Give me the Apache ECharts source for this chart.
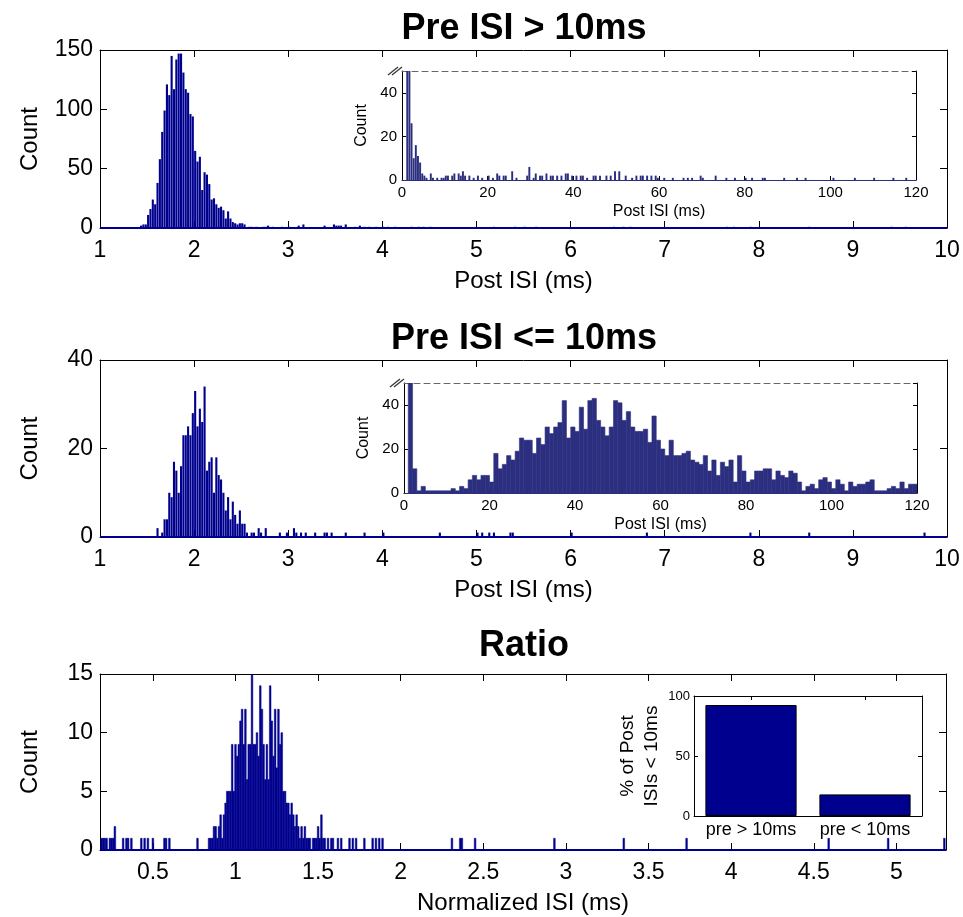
<!DOCTYPE html>
<html>
<head>
<meta charset="utf-8">
<script src="https://cdn.jsdelivr.net/npm/echarts@6/dist/echarts.min.js"></script>
<style>html,body{margin:0;padding:0;background:#fff}#c{width:963px;height:917px}</style>
</head>
<body>
<div id="c"></div>
<script>
// ---------------- DATA ----------------
const titles = ['Pre ISI > 10ms', 'Pre ISI <= 10ms', 'Ratio'];

// Panel 1 main histogram (Post ISI, 0.025 ms bins)
const topBin = 0.025;
const topStart = 1.4375;
const topCounts = [2,3,3,11,16,24,20,38,58,81,99,121,112,145,117,142,147,147,131,117,114,96,94,65,56,60,32,47,45,37,24,25,20,17,18,15,8,14,8,5,4,3,4,4,3];
const topTail = [[2.5875,1],[2.6125,1],[2.6625,1],[2.7375,1],[2.7625,1],[2.7875,2],[2.8375,1],[2.9375,1],[3.0125,1],[3.1125,2],[3.1625,3],[3.3875,2],[3.4875,3],[3.5125,2],[3.5375,2],[3.5625,2],[3.6125,3],[3.7125,1],[3.7625,2],[3.8125,1],[3.8625,1],[3.9375,1],[4.0125,1],[4.0625,1],[4.1375,1],[4.3125,1],[4.3875,1],[4.4375,1],[4.5125,1],[5.1875,1],[5.4125,1],[5.5125,1],[5.6375,1],[6.4625,1],[6.5625,1],[6.6375,1],[7.6625,1],[7.7375,1],[7.9125,1],[8.5375,1],[9.4125,1],[9.5625,1]];

// Panel 1 inset (0.5 ms bins) [bin centre, count]
const topInsetBin = 0.5;
const topInset = [[1.25,60],[1.75,60],[2.25,26],[2.75,10],[3.25,16],[3.75,11],[4.25,8],[4.75,3],[5.25,2],[5.75,1],[6.75,3],[7.25,1],[8.25,1],[9.25,1],[9.75,1],[10.25,2],[10.75,2],[11.75,2],[12.25,3],[13.25,3],[13.75,2],[14.25,4],[14.75,2],[15.75,2],[16.75,1],[17.75,2],[18.75,1],[20.25,2],[21.25,1],[22.25,3],[22.75,2],[23.75,2],[24.25,2],[25.75,4],[26.75,1],[29.25,2],[29.75,6],[30.75,1],[31.25,3],[32.25,2],[32.75,2],[33.75,3],[34.75,2],[35.25,2],[36.25,2],[37.25,2],[38.25,3],[38.75,3],[39.75,2],[40.75,2],[41.75,2],[42.25,2],[43.25,1],[44.75,2],[45.25,2],[46.25,2],[47.75,2],[48.75,2],[49.75,4],[50.75,4],[52.25,2],[53.75,1],[54.75,2],[55.75,2],[56.25,2],[57.25,2],[58.25,2],[59.25,2],[59.75,1],[61.25,1],[63.25,1],[65.75,1],[66.75,1],[67.75,1],[69.75,2],[70.25,1],[73.25,2],[75.75,1],[77.75,1],[80.25,1],[81.75,1],[84.25,1],[84.75,1],[89.25,1],[92.25,1],[94.25,1],[100.75,1],[105.75,1],[110.25,1],[114.75,1],[117.75,1]];

// Panel 2 main histogram (0.025 ms bins)
const midBin = 0.025;
const midStart = 1.6125;
const midCounts = [2,0,1,4,4,10,9,17,15,10,16,23,23,25,23,28,33,25,29,26,34,15,17,18,10,18,14,13,10,6,9,4,8,5,3,6,3,3,1,0,1,1,0,2,1,0,2];
const midTail = [[2.9125,1],[2.9875,1],[3.0625,2],[3.0875,1],[3.1375,1],[3.1875,1],[3.2875,1],[3.3875,1],[3.4125,1],[3.4625,1],[3.6125,1],[3.8125,1],[4.0125,1],[4.6125,1],[5.0125,1],[5.0625,1],[5.1375,1],[5.1875,1],[5.3625,1],[5.3875,1],[6.0125,1],[6.8125,1],[7.9125,1],[8.5375,1],[9.7625,1]];

// Panel 2 inset (1 ms bins starting at 0)
const midInsetBin = 1;
const midInset = [0,60,11,1,3,1,1,1,1,1, 1,2,1,3,2,6,8,6,8,8, 5,18,11,13,17,15,19,25,24,24, 18,25,22,30,27,30,32,42,25,30, 28,39,29,42,43,33,30,26,30,42, 41,33,37,30,28,28,29,23,35,24, 20,17,24,17,17,18,19,15,14,13, 17,10,15,8,14,12,15,5,17,10, 5,6,10,10,11,11,6,10,8,7, 10,9,5,1,3,4,2,6,7,5, 2,6,4,1,5,3,4,4,5,6, 1,1,1,2,3,2,5,2,4,4];

// Panel 3 main histogram (normalized ISI, 0.01 bins)
const ratioBin = 0.01;
const ratioStart = 0.85;
const ratioCounts = [1,1,2,2,1,2,3,1,3,4, 5,5,5,9,5,9,8,9,11,12, 9,12,6,9,9,15,9,9,10,8, 14,12,9,6,9,6,14,11,8,12, 7,12,9,10,5,5,4,4,3,4, 3,2,3,2,1,2,1,2,1,1, 1,0,1,1,1,2,1,3,1,1, 0,1,0,1,1,0];
const ratioTail = [[0.19,1],[0.20,1],[0.21,1],[0.22,1],[0.24,1],[0.25,1],[0.26,1],[0.27,2],[0.32,1],[0.34,1],[0.35,1],[0.37,1],[0.43,1],[0.45,1],[0.47,1],[0.50,1],[0.57,1],[0.58,1],[0.60,1],[0.77,1],[0.84,1],[1.62,1],[1.64,1],[1.69,1],[1.71,1],[1.73,1],[1.78,1],[1.83,1],[1.85,1],[1.87,1],[1.89,1],[2.31,1],[2.36,1],[2.37,1],[2.45,1],[2.93,1],[3.35,1],[3.73,1],[4.59,1],[4.95,1],[5.29,1]];
const ratioTicks = [0.5,1,1.5,2,2.5,3,3.5,4,4.5,5];

// Panel 3 inset bars
const barCats = ['pre > 10ms', 'pre < 10ms'];
const barVals = [92.5, 18];

// ---------------- BUILD ----------------
function seq(start, bw, counts){ return counts.map((c,i)=>[start + i*bw, c]); }
const C_MAIN = '#00008f';
const C_INSET = '#2c2f7f';
const FONT = 'Liberation Sans, Arial, Helvetica, sans-serif';

function hist(xi, yi, data, bw, color, shrink, baseW, strokeW){
  return {
    type:'custom', xAxisIndex:xi, yAxisIndex:yi, data:data, clip:true, silent:true, animation:false, z:3,
    renderItem:function(params, api){
      const x = api.value(0), y = api.value(1);
      if(!y) return null;
      const a = api.coord([x - bw/2, y]);
      const b = api.coord([x + bw/2, 0]);
      const w = Math.max(b[0]-a[0]-shrink, 0.9);
      const style = {fill:color};
      if(strokeW){ style.stroke = color; style.lineWidth = strokeW; }
      return {type:'rect', shape:{x:a[0], y:a[1], width:w, height:b[1]-a[1]}, style:style};
    },
    markLine:{silent:true, symbol:'none', animation:false, label:{show:false},
      lineStyle:{color:color, width:baseW, type:'solid'}, data:[{yAxis:0}]}
  };
}

function axLine(color, type){ return {show:true, onZero:false, lineStyle:{color:color||'#000', width:1, type:type||'solid'}}; }
function mainX(grid, min, max, interval, name, custom){
  const lab = {fontSize:23, color:'#000', fontFamily:FONT, margin:11};
  const tick = {show:true, inside:true, length:7, lineStyle:{color:'#000'}};
  if(custom){ lab.customValues = custom; tick.customValues = custom; }
  const bottom = {type:'value', gridIndex:grid, position:'bottom', min:min, max:max, interval:interval,
    axisLine:axLine(), axisTick:tick, axisLabel:lab, splitLine:{show:false},
    name:name, nameLocation:'middle', nameGap:41, nameTextStyle:{fontSize:24, color:'#000', fontFamily:FONT}};
  const top = {type:'value', gridIndex:grid, position:'top', min:min, max:max, interval:interval,
    axisLine:axLine(), axisTick:Object.assign({}, tick), axisLabel:{show:false}, splitLine:{show:false}};
  return [bottom, top];
}
function mainY(grid, max, interval){
  const left = {type:'value', gridIndex:grid, position:'left', min:0, max:max, interval:interval,
    axisLine:axLine(), axisTick:{show:true, inside:true, length:7, lineStyle:{color:'#000'}},
    axisLabel:{fontSize:23, color:'#000', fontFamily:FONT, margin:7}, splitLine:{show:false},
    name:'Count', nameLocation:'middle', nameGap:58, nameTextStyle:{fontSize:24, color:'#000', fontFamily:FONT}};
  const right = {type:'value', gridIndex:grid, position:'right', min:0, max:max, interval:interval,
    axisLine:axLine(), axisTick:{show:true, inside:true, length:7, lineStyle:{color:'#000'}},
    axisLabel:{show:false}, splitLine:{show:false}};
  return [left, right];
}
function insetX(grid){
  const bottom = {type:'value', gridIndex:grid, position:'bottom', min:0, max:120, interval:20,
    axisLine:axLine(), axisTick:{show:true, inside:true, length:4, lineStyle:{color:'#000'}},
    axisLabel:{fontSize:15, color:'#000', fontFamily:FONT, margin:5}, splitLine:{show:false},
    name:'Post ISI (ms)', nameLocation:'middle', nameGap:24, nameTextStyle:{fontSize:16, color:'#000', fontFamily:FONT}};
  const top = {type:'value', gridIndex:grid, position:'top', min:0, max:120, interval:20,
    axisLine:axLine('#666', [6,4]), axisTick:{show:false},
    axisLabel:{show:false}, splitLine:{show:false}};
  return [bottom, top];
}
function insetY(grid){
  const left = {type:'value', gridIndex:grid, position:'left', min:0, max:50, interval:20,
    axisLine:axLine(), axisTick:{show:true, inside:true, length:4, lineStyle:{color:'#000'}},
    axisLabel:{fontSize:15, color:'#000', fontFamily:FONT, margin:5, showMaxLabel:false}, splitLine:{show:false},
    name:'Count', nameLocation:'middle', nameGap:27, nameTextStyle:{fontSize:16, color:'#000', fontFamily:FONT}};
  const right = {type:'value', gridIndex:grid, position:'right', min:0, max:50, interval:20,
    axisLine:axLine(), axisTick:{show:true, inside:true, length:4, lineStyle:{color:'#000'}},
    axisLabel:{show:false}, splitLine:{show:false}};
  return [left, right];
}

const xAxes = [].concat(
  mainX(0, 1, 10, 1, 'Post ISI (ms)'),
  insetX(1),
  mainX(2, 1, 10, 1, 'Post ISI (ms)'),
  insetX(3),
  mainX(4, 0.18, 5.3, null, 'Normalized ISI (ms)', ratioTicks),
  [
    {type:'category', gridIndex:5, position:'bottom', data:barCats,
     axisLine:axLine(), axisTick:{show:true, inside:true, alignWithLabel:true, interval:0, length:4, lineStyle:{color:'#000'}},
     axisLabel:{fontSize:18, color:'#000', fontFamily:FONT, margin:5, interval:0}},
    {type:'category', gridIndex:5, position:'top', data:barCats,
     axisLine:axLine(), axisTick:{show:true, inside:true, alignWithLabel:true, interval:0, length:4, lineStyle:{color:'#000'}},
     axisLabel:{show:false}}
  ]
);
xAxes.forEach(a=>{ if(a.interval===null) delete a.interval; });

const yAxes = [].concat(
  mainY(0, 150, 50),
  insetY(1),
  mainY(2, 40, 20),
  insetY(3),
  mainY(4, 15, 5),
  [
    {type:'value', gridIndex:5, position:'left', min:0, max:100, interval:50,
     axisLine:axLine(), axisTick:{show:true, inside:true, length:4, lineStyle:{color:'#000'}},
     axisLabel:{fontSize:13, color:'#000', fontFamily:FONT, margin:4}, splitLine:{show:false},
     name:'% of Post\nISIs < 10ms', nameLocation:'middle', nameGap:30,
     nameTextStyle:{fontSize:19, color:'#000', fontFamily:FONT, lineHeight:24}},
    {type:'value', gridIndex:5, position:'right', min:0, max:100, interval:50,
     axisLine:axLine(), axisTick:{show:true, inside:true, length:4, lineStyle:{color:'#000'}},
     axisLabel:{show:false}, splitLine:{show:false}}
  ]
);

const option = {
  animation:false,
  backgroundColor:'#fff',
  title: titles.map((t,i)=>({text:t, left:524, top:[11, 321, 628][i], textAlign:'center', padding:0,
    textStyle:{fontSize:36, fontWeight:'bold', color:'#000', fontFamily:FONT}})),
  grid:[
    {left:100, top:50, width:847, height:178},
    {left:402, top:71, width:514, height:109, show:true, backgroundColor:'#fff', borderWidth:0},
    {left:100, top:360, width:847, height:177},
    {left:404, top:383, width:513, height:110, show:true, backgroundColor:'#fff', borderWidth:0},
    {left:100, top:674, width:846, height:176},
    {left:694, top:696, width:228, height:120, show:true, backgroundColor:'#fff', borderWidth:0}
  ],
  xAxis: xAxes,
  yAxis: yAxes,
  series:[
    hist(0, 0, seq(topStart, topBin, topCounts).concat(topTail), topBin, C_MAIN, 0.25, 2, 0),
    hist(2, 2, topInset, topInsetBin, C_INSET, 0.2, 1, 0),
    hist(4, 4, seq(midStart, midBin, midCounts).concat(midTail), midBin, C_MAIN, 0.25, 2, 0),
    hist(6, 6, seq(0.5, midInsetBin, midInset), midInsetBin, C_INSET, 0, 1, 0.6),
    hist(8, 8, seq(ratioStart, ratioBin, ratioCounts).concat(ratioTail), ratioBin, C_MAIN, 0, 2, 0.5),
    {type:'bar', xAxisIndex:10, yAxisIndex:10, data:barVals, barWidth:'80%', silent:true, z:3,
     itemStyle:{color:C_MAIN, borderColor:'#000', borderWidth:1}}
  ]
};

const chart = echarts.init(document.getElementById('c'), null, {renderer:'canvas'});
chart.setOption(option);

// axis break marks at the top-left corner of the insets
function breakMarks(ai, top){
  const p = chart.convertToPixel({xAxisIndex:ai, yAxisIndex:ai}, [0, top]);
  const st = {stroke:'#333', lineWidth:1.2};
  return [
    {type:'line', shape:{x1:p[0]-14, y1:p[1]+4, x2:p[0]-4, y2:p[1]-4}, style:st, z:20},
    {type:'line', shape:{x1:p[0]-10, y1:p[1]+4, x2:p[0], y2:p[1]-4}, style:st, z:20}
  ];
}
chart.setOption({graphic: breakMarks(2, 50).concat(breakMarks(6, 50))});
</script>
</body>
</html>
